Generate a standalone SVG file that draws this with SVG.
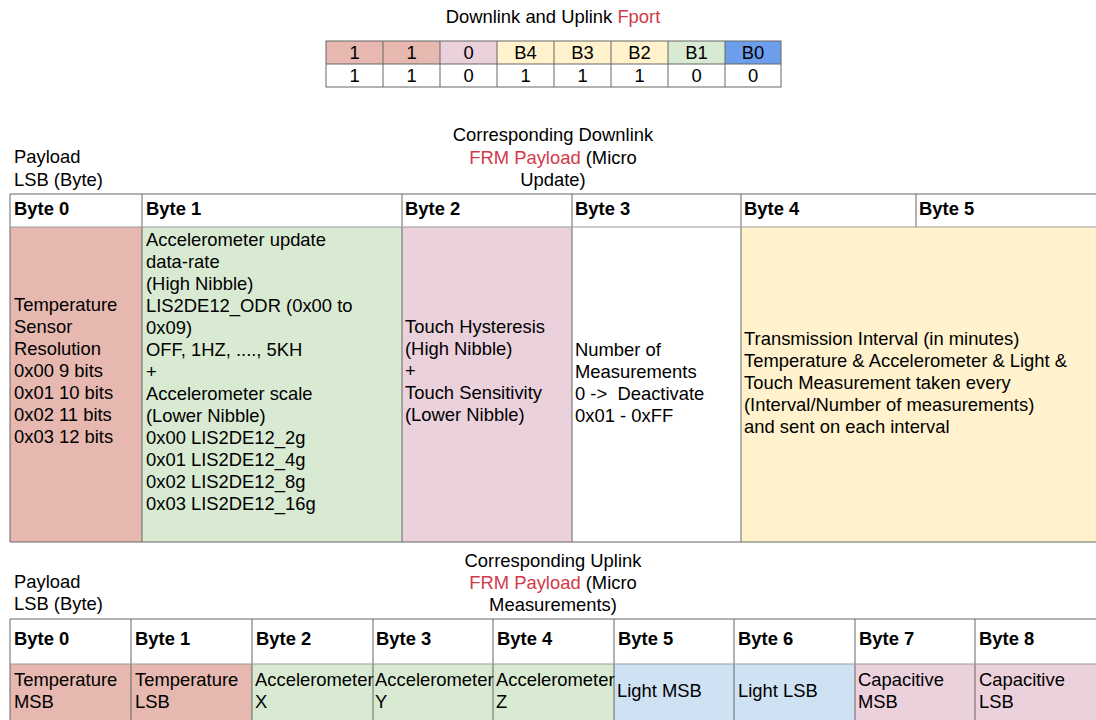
<svg xmlns="http://www.w3.org/2000/svg" width="1096" height="720" viewBox="0 0 1096 720">
  <style>
    text { font-family: "Liberation Sans", Arial, sans-serif; font-size: 18.4px; fill: #000; }
    .hd { font-weight: bold; }
    .mid { text-anchor: middle; }
    .red { fill: #d33a47; }
    .grid { fill: none; stroke: #666; stroke-width: 1; }
    .sep { stroke: #999; stroke-width: 1; }
    .rose { fill: #e6b8af; }
    .pink { fill: #ead1dc; }
    .cream { fill: #fff2cc; }
    .green { fill: #d9ead3; }
    .blue { fill: #6d9eeb; }
    .lblue { fill: #cfe2f3; }
  </style>
  <rect width="1096" height="720" fill="#fff"/>

  <!-- Fport bit layout -->
  <g id="fport">
    <text x="553" y="23" class="mid">Downlink and Uplink <tspan class="red">Fport</tspan></text>
    <rect x="326" y="41" width="57" height="23" class="rose"/>
    <rect x="383" y="41" width="57" height="23" class="rose"/>
    <rect x="440" y="41" width="57" height="23" class="pink"/>
    <rect x="497" y="41" width="57" height="23" class="cream"/>
    <rect x="554" y="41" width="57" height="23" class="cream"/>
    <rect x="611" y="41" width="57" height="23" class="cream"/>
    <rect x="668" y="41" width="57" height="23" class="green"/>
    <rect x="725" y="41" width="56" height="23" class="blue"/>
    <rect x="326" y="41" width="455" height="46" class="grid"/>
    <path class="grid" d="M326 64H781M383 41V87M440 41V87M497 41V87M554 41V87M611 41V87M668 41V87M725 41V87"/>
    <g class="mid">
      <text x="354.5" y="59">1</text><text x="411.5" y="59">1</text><text x="468.5" y="59">0</text>
      <text x="525.5" y="59">B4</text><text x="582.5" y="59">B3</text><text x="639.5" y="59">B2</text>
      <text x="696.5" y="59">B1</text><text x="753" y="59">B0</text>
      <text x="354.5" y="82">1</text><text x="411.5" y="82">1</text><text x="468.5" y="82">0</text>
      <text x="525.5" y="82">1</text><text x="582.5" y="82">1</text><text x="639.5" y="82">1</text>
      <text x="696.5" y="82">0</text><text x="753" y="82">0</text>
    </g>
  </g>

  <!-- Downlink payload table -->
  <g id="downlink">
    <text x="553" y="141" class="mid">Corresponding Downlink</text>
    <text x="553" y="164" class="mid"><tspan class="red">FRM Payload</tspan> (Micro</text>
    <text x="553" y="186" class="mid">Update)</text>
    <text x="14" y="163">Payload</text>
    <text x="14" y="186">LSB (Byte)</text>

    <rect x="10" y="227" width="132" height="315" class="rose"/>
    <rect x="142" y="227" width="260" height="315" class="green"/>
    <rect x="402" y="227" width="170" height="315" class="pink"/>
    <rect x="741" y="227" width="355" height="315" class="cream"/>
    <path class="grid" d="M10 194H1096M10 542H1096M10 194V542M142 194V542M402 194V542M572 194V542M741 194V542M916 194V227"/>
    <path class="sep" d="M10 227H1096"/>

    <g class="hd">
      <text x="14" y="215">Byte 0</text><text x="146" y="215">Byte 1</text>
      <text x="405" y="215">Byte 2</text><text x="575" y="215">Byte 3</text>
      <text x="744" y="215">Byte 4</text><text x="919" y="215">Byte 5</text>
    </g>

    <text x="14" y="311">Temperature</text>
    <text x="14" y="333">Sensor</text>
    <text x="14" y="355">Resolution</text>
    <text x="14" y="377">0x00 9 bits</text>
    <text x="14" y="399">0x01 10 bits</text>
    <text x="14" y="421">0x02 11 bits</text>
    <text x="14" y="443">0x03 12 bits</text>

    <text x="146" y="246">Accelerometer update</text>
    <text x="146" y="268">data-rate</text>
    <text x="146" y="290">(High Nibble)</text>
    <text x="146" y="312">LIS2DE12_ODR (0x00 to</text>
    <text x="146" y="334">0x09)</text>
    <text x="146" y="356">OFF, 1HZ, ...., 5KH</text>
    <text x="146" y="378">+</text>
    <text x="146" y="400">Accelerometer scale</text>
    <text x="146" y="422">(Lower Nibble)</text>
    <text x="146" y="444">0x00 LIS2DE12_2g</text>
    <text x="146" y="466">0x01 LIS2DE12_4g</text>
    <text x="146" y="488">0x02 LIS2DE12_8g</text>
    <text x="146" y="510">0x03 LIS2DE12_16g</text>

    <text x="405" y="333">Touch Hysteresis</text>
    <text x="405" y="355">(High Nibble)</text>
    <text x="405" y="377">+</text>
    <text x="405" y="399">Touch Sensitivity</text>
    <text x="405" y="421">(Lower Nibble)</text>

    <text x="575" y="356">Number of</text>
    <text x="575" y="378">Measurements</text>
    <text x="575" y="400">0 -&gt;&#160; Deactivate</text>
    <text x="575" y="422">0x01 - 0xFF</text>

    <text x="744" y="345">Transmission Interval (in minutes)</text>
    <text x="744" y="367">Temperature &amp; Accelerometer &amp; Light &amp;</text>
    <text x="744" y="389">Touch Measurement taken every</text>
    <text x="744" y="411">(Interval/Number of measurements)</text>
    <text x="744" y="433">and sent on each interval</text>
  </g>

  <!-- Uplink payload table -->
  <g id="uplink">
    <text x="553" y="567" class="mid">Corresponding Uplink</text>
    <text x="553" y="589" class="mid"><tspan class="red">FRM Payload</tspan> (Micro</text>
    <text x="553" y="611" class="mid">Measurements)</text>
    <text x="14" y="588">Payload</text>
    <text x="14" y="610">LSB (Byte)</text>

    <rect x="10" y="664" width="242" height="56" class="rose"/>
    <rect x="252" y="664" width="362" height="56" class="green"/>
    <rect x="614" y="664" width="241" height="56" class="lblue"/>
    <rect x="855" y="664" width="241" height="56" class="pink"/>
    <path class="grid" d="M10 619H1096M10 619V720M131 619V720M252 619V720M373 619V720M493 619V720M614 619V720M734 619V720M855 619V720M975 619V720"/>
    <path class="sep" d="M10 664H1096"/>

    <g class="hd">
      <text x="14" y="645">Byte 0</text><text x="135" y="645">Byte 1</text>
      <text x="256" y="645">Byte 2</text><text x="376" y="645">Byte 3</text>
      <text x="497" y="645">Byte 4</text><text x="618" y="645">Byte 5</text>
      <text x="738" y="645">Byte 6</text><text x="859" y="645">Byte 7</text>
      <text x="979" y="645">Byte 8</text>
    </g>

    <text x="14" y="686">Temperature</text><text x="14" y="708">MSB</text>
    <text x="135" y="686">Temperature</text><text x="135" y="708">LSB</text>
    <text x="255" y="686">Accelerometer</text><text x="255" y="708">X</text>
    <text x="375" y="686">Accelerometer</text><text x="375" y="708">Y</text>
    <text x="496" y="686">Accelerometer</text><text x="496" y="708">Z</text>
    <text x="617" y="697">Light MSB</text>
    <text x="738" y="697">Light LSB</text>
    <text x="858" y="686">Capacitive</text><text x="858" y="708">MSB</text>
    <text x="979" y="686">Capacitive</text><text x="979" y="708">LSB</text>
  </g>
</svg>
